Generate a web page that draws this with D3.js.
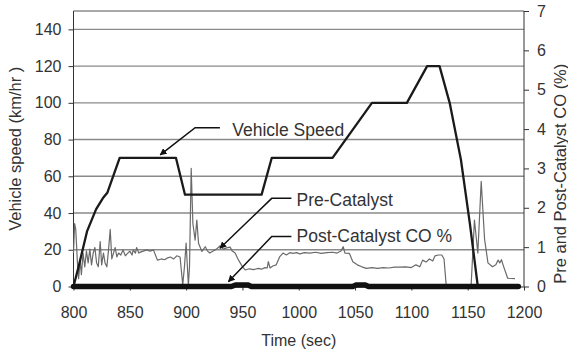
<!DOCTYPE html>
<html>
<head>
<meta charset="utf-8">
<script src="https://cdn.jsdelivr.net/npm/d3@7"></script>
<style>
  body { margin: 0; background: #fff; }
  svg { font-family: "Liberation Sans", Arial, sans-serif; }
  .axis path, .axis line { stroke: #333; }
  .axis text { fill: #333; font-size: 16px; }
</style>
</head>
<body>
<div id="container"></div>
<script>
// vehicle speed and CO traces over the drive cycle

// vehicle speed, km/hr
var speedTime = [800, 805, 812, 820, 826, 830, 841, 891, 899, 967, 976, 1030, 1065, 1096, 1114, 1125, 1134, 1144, 1152, 1159];
var speedKmh = [0, 12, 30, 42, 48, 51, 70, 70, 50, 50, 70, 70, 100, 100, 120, 120, 100, 69, 34, 0];

// pre-catalyst CO %, [time, value]
var preCatalyst = [
	[800, 0.85], [801, 1.6], [802, 1.45], [803.5, 0.6], [804.5, 0.2], [806, 0.65], [807, 0.3],
	[808.5, 0.85], [810, 0.5], [811.5, 0.9], [813, 0.6], [814.5, 0.95], [816, 0.55], [817.5, 0.85],
	[819, 0.99], [820.5, 0.6], [822, 0.5], [823.7, 1.14], [825, 0.55], [826.6, 0.85], [828, 0.6],
	[829.6, 0.5], [831, 0.9], [832.6, 1.45], [834, 0.7], [835.5, 0.85], [837, 0.99], [838.5, 0.75],
	[840, 0.85], [842, 0.8], [844, 0.93], [846, 0.78], [848, 0.84], [850, 0.9], [852, 0.8],
	[853, 0.93], [855, 0.85], [856, 0.99], [858, 0.85], [860, 0.88], [862, 0.9], [865, 0.93],
	[868, 0.9], [871, 0.93], [874.5, 0.67], [878, 0.7], [881, 0.68], [883, 0.72], [886, 0.75],
	[889, 0.7], [891.7, 0.78], [894.6, 0.75], [897, 0.04], [898.5, 0.5], [900, 1.1], [902, 0.04],
	[903, 0.5], [904.5, 3.0], [906, 1.6], [908, 1.18], [909.5, 1.69], [911, 1.1], [914, 0.89],
	[917, 1.01], [919, 0.9], [921, 0.85], [924, 0.9], [927, 0.95], [930, 1.03], [933, 0.95],
	[936, 0.98], [939, 1.0], [941, 0.9], [943.5, 0.85], [946, 0.7], [948, 0.6], [950, 0.5],
	[952.5, 0.42], [956, 0.45], [960, 0.43], [964, 0.46], [967, 0.44], [970, 0.48], [972, 0.47],
	[973, 0.63], [974.5, 0.47], [977, 0.52], [980, 0.55], [983, 0.75], [986, 0.85], [989, 0.8],
	[992, 0.86], [995, 0.84], [998, 0.86], [1001, 0.83], [1005, 0.86], [1010, 0.85], [1015, 0.87],
	[1020, 0.84], [1025, 0.86], [1030, 0.87], [1034, 0.85], [1037.5, 0.9], [1039.5, 1.01], [1041, 0.85],
	[1045, 0.84], [1048, 0.63], [1052, 0.55], [1056, 0.5], [1060, 0.46], [1065, 0.48], [1070, 0.46],
	[1075, 0.48], [1080, 0.47], [1085, 0.49], [1090, 0.49], [1095, 0.5], [1100, 0.48], [1104, 0.55],
	[1107.5, 0.5], [1110, 0.67], [1113, 0.62], [1116, 0.7], [1119, 0.65], [1121, 0.78], [1124, 0.8],
	[1127, 0.8], [1129, 0.7], [1131, 0], [1153, 0], [1156, 1.69], [1159, 0.85], [1162, 2.67],
	[1165, 1.2], [1168, 0.6], [1172, 0.5], [1175, 0.55], [1177, 0.67], [1178.5, 0.6], [1180, 0.68],
	[1182, 0.5], [1185.5, 0.21], [1192, 0.2]
];

// post-catalyst CO %, [time, value]
var postCatalyst = [
	[800, 0], [940, 0], [944, 0.04], [955, 0.04], [958, 0],
	[1048, 0], [1051, 0.04], [1059, 0.04], [1062, 0], [1195, 0]
];

// axis ticks
var timeTicks = [800, 850, 900, 950, 1000, 1050, 1100, 1150, 1200];
var speedTicks = [0, 20, 40, 60, 80, 100, 120, 140];
var coTicks = [0, 1, 2, 3, 4, 5, 6, 7];

// callouts: label, text anchor, elbow, arrow tip (time, km/hr)
var calloutLabels = ["Vehicle Speed", "Pre-Catalyst", "Post-Catalyst CO %"];
var calloutText = [[941, 82], [998, 44], [998, 24]];
var calloutElbow = [[908, 86.5], [976, 48], [976, 27.2]];
var calloutStart = [[930, 86.5], [993.5, 48], [993.5, 27.2]];
var calloutTip = [[877, 71.7], [930, 20.8], [937.5, 2.6]];


var width = 568,
    height = 352;

var svg = d3.select("#container").append("svg")
	.attr("width", width)
	.attr("height", height);

var x = d3.scaleLinear().domain([800, 1200]).range([73.5, 524]);
var yL = d3.scaleLinear().domain([0, 150]).range([286.5, 11]);
var yR = d3.scaleLinear().domain([0, 7]).range([286.5, 11]);

// gridlines
svg.append("g").selectAll("line")
	.data(speedTicks.filter(d => d > 0))
	.enter().append("line")
	.attr("x1", x(800)).attr("x2", x(1200))
	.attr("y1", d => yL(d)).attr("y2", d => yL(d))
	.attr("stroke", "#8a8a8a")
	.attr("stroke-width", 1.4);

// plot frame top
svg.append("line")
	.attr("x1", x(800)).attr("x2", x(1200))
	.attr("y1", yL(150)).attr("y2", yL(150))
	.attr("stroke", "#555")
	.attr("stroke-width", 1.2);

// axes
svg.append("g")
	.attr("class", "axis")
	.attr("transform", "translate(" + x(800) + ",0)")
	.call(d3.axisLeft(yL).tickValues(speedTicks).tickFormat(d3.format("d"))
		.tickSize(5).tickPadding(7).tickSizeOuter(0))
	.call(g => g.select(".domain").attr("d", "M0," + yL(0) + "V" + yL(150)));

svg.append("g")
	.attr("class", "axis")
	.attr("transform", "translate(" + x(1200) + ",0)")
	.call(d3.axisRight(yR).tickValues(coTicks).tickFormat(d3.format("d"))
		.tickSize(5).tickPadding(8).tickSizeOuter(0))
	.call(g => g.select(".domain").attr("d", "M0," + yR(0) + "V" + yR(7)));

svg.append("g")
	.attr("class", "axis")
	.attr("transform", "translate(0," + yL(0) + ")")
	.call(d3.axisBottom(x).tickValues(timeTicks).tickFormat(d3.format("d"))
		.tickSize(4).tickPadding(16).tickSizeOuter(0));

// axis titles
svg.append("text")
	.attr("x", x(1000))
	.attr("y", 346)
	.attr("text-anchor", "middle")
	.attr("font-size", 16)
	.attr("fill", "#333")
	.text("Time (sec)");

svg.append("text")
	.attr("transform", "translate(21," + yL(75) + ") rotate(-90)")
	.attr("text-anchor", "middle")
	.attr("font-size", 16.5)
	.attr("fill", "#333")
	.text("Vehicle speed (km/hr )");

svg.append("text")
	.attr("transform", "translate(566," + (yL(75) + 25) + ") rotate(-90)")
	.attr("text-anchor", "middle")
	.attr("font-size", 16.5)
	.attr("fill", "#333")
	.text("Pre and Post-Catalyst CO (%)");

// series
var lineR = d3.line().x(d => x(d[0])).y(d => yR(d[1]));

svg.append("path")
	.datum(preCatalyst)
	.attr("d", lineR)
	.attr("fill", "none")
	.attr("stroke", "#6a6a6a")
	.attr("stroke-width", 1.2)
	.attr("stroke-linejoin", "round");

svg.append("path")
	.datum(d3.range(speedTime.length))
	.attr("d", d3.line().x(i => x(speedTime[i])).y(i => yL(speedKmh[i])))
	.attr("fill", "none")
	.attr("stroke", "#1a1a1a")
	.attr("stroke-width", 2.3)
	.attr("stroke-linejoin", "round");

svg.append("path")
	.datum(postCatalyst)
	.attr("d", lineR)
	.attr("fill", "none")
	.attr("stroke", "#111")
	.attr("stroke-width", 5.5)
	.attr("stroke-linecap", "round");

// callouts with arrows
svg.append("defs").append("marker")
	.attr("id", "arrow")
	.attr("viewBox", "0 0 10 10")
	.attr("refX", 9).attr("refY", 5)
	.attr("markerWidth", 7).attr("markerHeight", 7)
	.attr("markerUnits", "userSpaceOnUse")
	.attr("orient", "auto")
	.append("path")
	.attr("d", "M0,0L10,5L0,10z")
	.attr("fill", "#111");

var callouts = svg.append("g").selectAll("g")
	.data(calloutLabels)
	.enter().append("g");

callouts.append("polyline")
	.attr("points", function(d, i){
		return [calloutStart[i], calloutElbow[i], calloutTip[i]]
			.map(p => x(p[0]) + "," + yL(p[1])).join(" ");
	})
	.attr("fill", "none")
	.attr("stroke", "#111")
	.attr("stroke-width", 1.5)
	.attr("marker-end", "url(#arrow)");

callouts.append("text")
	.attr("x", (d, i) => x(calloutText[i][0]))
	.attr("y", (d, i) => yL(calloutText[i][1]))
	.attr("font-size", 17.5)
	.attr("fill", "#333")
	.text(d => d);

</script>
</body>
</html>
